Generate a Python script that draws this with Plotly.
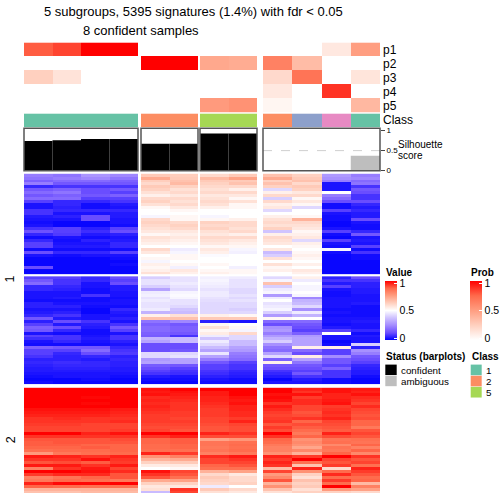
import plotly.graph_objects as go

W = H = 504
FONT = "Liberation Sans"

# columns: group 1 (4), group 2 (2), group 3 (2), group 4 (4)
p_labels = ["p1", "p2", "p3", "p4", "p5"]
p1 = [.78, .84, 1, 1, 0, 0, 0, 0, 0, 0, .12, .50]
p2 = [0, 0, 0, 0, 1, 1, .45, .43, .64, .35, 0, 0]
p3 = [.25, .15, 0, 0, 0, 0, 0, 0, .20, .70, 0, .14]
p4 = [0, 0, 0, 0, 0, 0, 0, 0, .12, 0, .88, 0]
p5 = [0, 0, 0, 0, 0, 0, .52, .56, .05, 0, 0, .37]
class_ids = [0, 0, 0, 0, 1, 1, 2, 2, 1, 3, 4, 0]
class_colors = ["#66C2A5", "#FC8D62", "#A6D854", "#8DA0CB", "#E78AC3"]
sil_confident = [.74, .76, .79, .79, .67, .67, .93, .93, 0, 0, 0, 0]
sil_ambiguous = [0, 0, 0, 0, 0, 0, 0, 0, 0, 0, 0, .37]

# heatmap rows in hundredths, top to bottom, one list per row, 12 columns
block_a = [
 [22,20,27,24, 64,63, 60,64, 66,62, 28,22],
 [20,22,24,20, 72,64, 68,74, 72,64, 26,24],
 [16,18,18,16, 63,66, 64,64, 62,66, 22,18],
 [22,14,14,14, 60,68, 62,66, 66,60, 3,20],
 [6,8,8,8, 64,62, 60,60, 62,64, 3,8],
 [14,16,12,14, 62,58, 58,54, 42,62, 3,14],
 [18,20,12,10, 58,60, 60,60, 54,56, 50,12],
 [14,16,14,16, 54,56, 56,56, 60,60, 22,8],
 [18,18,10,10, 60,60, 58,52, 40,52, 18,8],
 [10,6,6,8, 62,58, 60,58, 60,56, 12,12],
 [3,6,2,4, 58,60, 58,52, 54,52, 2,6],
 [3,5,2,3, 52,56, 54,52, 56,42, 2,4],
 [8,6,6,6, 50,52, 50,50, 42,50, 10,6],
 [8,3,3,4, 50,50, 50,50, 50,50, 3,4],
 [4,5,12,4, 48,52, 48,50, 54,52, 2,4],
 [3,3,12,3, 60,52, 52,54, 58,70, 2,12],
 [2,1,1,3, 62,60, 62,60, 60,60, 1,3],
 [3,1,1,2, 60,62, 60,60, 58,58, 1,2],
 [8,10,5,10, 58,60, 62,58, 62,56, 3,2],
 [13,10,7,12, 56,56, 58,60, 38,52, 10,6],
 [6,9,4,5, 52,54, 56,54, 54,54, 2,14],
 [2,3,2,3, 58,56, 60,60, 60,56, 1,3],
 [6,2,5,4, 56,54, 58,56, 58,42, 10,4],
 [10,3,3,6, 54,52, 56,54, 56,54, 3,3],
 [10,4,4,6, 50,50, 52,52, 50,52, 2,10],
 [2,2,2,2, 60,46, 56,48, 56,50, 48,2],
 [12,6,6,10, 56,48, 54,47, 36,52, 2,8],
 [3,2,3,3, 50,52, 49,50, 40,54, 1,2],
 [1,1,1,2, 52,52, 50,50, 58,52, 1,2],
 [1,1,1,1, 48,50, 50,50, 50,50, 1,1],
 [1,1,1,2, 54,52, 52,50, 58,54, 1,1],
 [12,1,1,1, 52,47, 50,47, 52,50, 1,1],
 [1,1,1,1, 54,56, 52,52, 54,56, 1,1],
 [1,1,1,1, 58,54, 54,52, 50,54, 1,1],
]
block_b = [
 [10,10,6,12, 40,44, 47,46, 42,54, 5,12],
 [14,8,6,10, 44,44, 48,44, 48,46, 8,8],
 [18,8,3,12, 44,46, 47,44, 66,50, 4,5],
 [6,6,3,4, 40,44, 46,44, 40,48, 10,5],
 [6,5,2,4, 30,42, 44,42, 46,48, 3,4],
 [3,3,2,3, 46,48, 46,42, 48,50, 2,4],
 [3,3,8,3, 47,49, 46,44, 28,48, 2,3],
 [3,4,2,2, 44,48, 44,42, 46,24, 3,3],
 [2,2,2,3, 46,44, 43,44, 50,34, 3,3],
 [5,3,3,3, 44,44, 42,42, 44,36, 3,4],
 [5,5,2,2, 44,42, 42,42, 46,42, 3,2],
 [3,3,1,6, 46,38, 42,40, 48,26, 2,2],
 [4,5,1,4, 34,36, 42,42, 40,46, 3,2],
 [6,8,3,3, 54,58, 54,52, 28,34, 2,2],
 [14,4,3,5, 66,66, 64,64, 52,50, 3,3],
 [5,12,8,3, 20,24, 5,3, 18,18, 3,4],
 [10,4,5,8, 16,14, 52,50, 12,14, 2,3],
 [16,12,4,14, 18,16, 58,52, 26,12, 4,3],
 [14,6,2,10, 18,16, 52,48, 28,10, 10,6],
 [3,2,2,3, 16,14, 55,60, 22,16, 50,2],
 [10,8,3,8, 15,8, 46,42, 28,28, 3,4],
 [7,8,4,8, 34,36, 38,42, 34,30, 3,3],
 [3,6,3,5, 30,36, 46,36, 40,30, 1,3],
 [2,2,2,3, 12,12, 42,36, 26,30, 2,40],
 [16,14,14,6, 12,12, 36,30, 20,54, 55,5],
 [10,10,18,8, 12,14, 30,28, 18,18, 10,26],
 [10,6,12,9, 42,42, 45,22, 30,12, 10,22],
 [8,5,6,5, 42,44, 30,20, 42,55, 25,14],
 [5,5,4,6, 28,30, 22,18, 16,30, 14,12],
 [6,7,6,5, 30,30, 14,10, 54,20, 14,10],
 [5,6,6,5, 15,14, 10,8, 14,14, 10,6],
 [4,5,5,4, 12,10, 10,8, 12,12, 16,5],
 [4,4,4,4, 10,8, 8,6, 8,10, 8,4],
 [3,3,3,3, 8,7, 7,5, 6,14, 8,4],
 [2,3,3,2, 4,3, 5,4, 4,8, 8,2],
 [1,1,2,1, 2,2, 3,2, 1,4, 2,1],
 [2,1,1,1, 1,1, 2,2, 3,3, 2,1],
]
block_c = [
 [100,100,100,100, 98,100, 100,100, 100,96, 98,97],
 [100,100,100,100, 97,98, 97,100, 100,94, 98,96],
 [100,100,100,100, 98,97, 97,100, 98,98, 96,98],
 [100,100,99,100, 95,96, 96,98, 99,93, 96,95],
 [100,100,100,100, 96,95, 96,97, 98,95, 97,94],
 [100,100,99,100, 95,94, 95,98, 94,95, 98,92],
 [100,100,100,100, 96,94, 94,96, 97,92, 93,95],
 [98,98,98,97, 95,94, 93,96, 95,92, 94,92],
 [97,97,97,96, 94,93, 93,95, 93,90, 95,91],
 [96,96,96,95, 93,93, 93,95, 92,91, 94,90],
 [94,95,94,94, 93,92, 92,93, 93,94, 96,91],
 [94,94,94,95, 93,93, 92,96, 94,88, 92,88],
 [93,93,92,92, 92,92, 91,92, 90,91, 91,88],
 [92,92,92,92, 91,91, 90,91, 93,89, 90,84],
 [92,92,92,93, 92,90, 90,91, 91,87, 89,90],
 [100,100,96,98, 100,100, 96,94, 100,84, 96,92],
 [94,94,94,94, 94,96, 91,91, 94,88, 91,90],
 [90,90,90,91, 88,89, 74,77, 88,78, 85,86],
 [89,90,90,90, 88,89, 85,86, 87,80, 86,85],
 [89,89,88,88, 87,88, 85,87, 84,78, 80,88],
 [88,88,89,88, 87,88, 84,86, 82,73, 85,82],
 [86,87,87,88, 86,86, 85,87, 82,80, 84,88],
 [76,84,86,87, 96,93, 82,84, 78,70, 88,80],
 [97,96,94,96, 78,82, 95,97, 96,93, 100,94],
 [94,94,98,94, 70,72, 92,94, 93,100, 92,90],
 [90,91,89,93, 62,64, 92,92, 96,86, 90,92],
 [97,97,94,97, 55,56, 88,90, 94,66, 93,86],
 [82,94,97,92, 50,52, 86,86, 68,96, 60,96],
 [100,100,98,95, 98,92, 70,74, 92,78, 87,93],
 [93,95,95,90, 94,90, 60,56, 76,62, 95,90],
 [82,85,88,90, 90,86, 64,60, 80,58, 87,87],
 [84,87,86,84, 72,74, 62,60, 90,66, 93,88],
 [96,99,99,100, 62,62, 60,62, 70,62, 87,68],
 [88,87,86,86, 56,56, 46,50, 78,64, 100,82],
 [70,70,70,70, 58,94, 64,60, 66,58, 76,74],
 [66,66,68,68, 36,92, 58,56, 58,62, 62,60],
]
sil_ticks = [0, 0.5, 1]
sil_tick_text = ["0", "0.5", "1"]
legend_ticks = [0.03, 0.5, 0.96]
legend_tick_text = ["0", "0.5", "1"]
title_lines = ["5 subgroups, 5395 signatures (1.4%) with fdr &lt; 0.05", "8 confident samples"]

VALUE_SCALE = [[0, "#0000FF"], [.12, "#6A4DFF"], [.25, "#A48CFF"], [.38, "#D0C4FF"], [.5, "#FFFFFF"],
               [.625, "#FFD0BF"], [.75, "#FF9E81"], [.875, "#FF6A4B"], [1, "#FF0000"]]
PROB_SCALE = [[0, "#FFFFFF"], [.25, "#FFD0BF"], [.5, "#FF9E81"], [.75, "#FF6A4B"], [1, "#FF0000"]]


def fx(px):
    return px / W


def fy(px):
    return 1 - px / H


groups = [(0, 4, 24, 138), (4, 6, 141, 198), (6, 8, 200, 257), (8, 12, 263, 380)]
bands = {"y": (41, 112), "y2": (113, 127), "y3": (128, 171), "y4": (174, 276), "y5": (278, 388), "y6": (391, 498)}

fig = go.Figure()
p_rows = [p1, p2, p3, p4, p5]
blocks = {"y4": block_a, "y5": block_b, "y6": block_c}

for i, (a, b, x0, x1) in enumerate(groups):
    xa = "x" if i == 0 else f"x{i+1}"
    cols = list(range(a, b))
    fig.add_trace(go.Heatmap(z=[r[a:b] for r in p_rows], x=cols, xaxis=xa, yaxis="y", zmin=0, zmax=1,
                             colorscale=PROB_SCALE, showscale=i == 0, hoverinfo="skip",
                             colorbar=dict(x=fx(470), xanchor="left", y=fy(343), yanchor="bottom", len=60 / H,
                                           thickness=12, xpad=0, ypad=0, outlinewidth=0, ticks="inside", ticklen=3,
                                           tickcolor="white", tickvals=legend_ticks, ticktext=legend_tick_text,
                                           tickfont=dict(family=FONT, size=10.5, color="black"))))
    fig.add_trace(go.Heatmap(z=[class_ids[a:b]], x=cols, xaxis=xa, yaxis="y2", zmin=0, zmax=4,
                             colorscale=[[k / 4, c] for k, c in enumerate(class_colors)], showscale=False,
                             hoverinfo="skip"))
    fig.add_trace(go.Bar(x=cols, y=sil_confident[a:b], marker=dict(color="black", line_width=0), xaxis=xa, yaxis="y3",
                         width=1, hoverinfo="skip", showlegend=False))
    fig.add_trace(go.Bar(x=cols, y=sil_ambiguous[a:b], marker=dict(color="#BEBEBE", line_width=0), xaxis=xa, yaxis="y3",
                         width=1, hoverinfo="skip", showlegend=False))
    for ya, rows in blocks.items():
        show = i == 0 and ya == "y4"
        fig.add_trace(go.Heatmap(z=[[v / 100 for v in r[a:b]] for r in rows], x=cols, xaxis=xa, yaxis=ya,
                                 zmin=0, zmax=1, colorscale=VALUE_SCALE, showscale=show, hoverinfo="skip",
                                 colorbar=dict(x=fx(385), xanchor="left", y=fy(343), yanchor="bottom", len=60 / H,
                                               thickness=12, xpad=0, ypad=0, outlinewidth=0, ticks="inside", ticklen=3,
                                               tickcolor="white", tickvals=legend_ticks, ticktext=legend_tick_text,
                                               tickfont=dict(family=FONT, size=10.5, color="black"))))

layout = dict(width=W, height=H, autosize=False, margin=dict(l=0, r=0, t=0, b=0), paper_bgcolor="white",
              plot_bgcolor="rgba(0,0,0,0)", showlegend=False, barmode="overlay", font=dict(family=FONT, color="black"))
for i, (a, b, x0, x1) in enumerate(groups):
    key = "xaxis" if i == 0 else f"xaxis{i+1}"
    layout[key] = dict(domain=[fx(x0), fx(x1)], range=[a - .5, b - .5], visible=False, fixedrange=True, anchor="y3")
for name, (y0, y1) in bands.items():
    key = "yaxis" + name[1:]
    ax = dict(domain=[fy(y1), fy(y0)], visible=False, fixedrange=True, anchor="x")
    if name == "y3":
        ax.update(range=[0, 1.06], visible=True, side="right", anchor="x4", showgrid=False, zeroline=False, showline=False,
                  ticks="outside", ticklen=4, tickwidth=1, tickcolor="#444444", tickvals=sil_ticks, ticktext=sil_tick_text,
                  tickfont=dict(family=FONT, size=8))
    else:
        ax["autorange"] = "reversed"
    layout[key] = ax
fig.update_layout(**layout)

# silhouette frames and the 0.5 guide in each group
for i in range(4):
    xr = "x domain" if i == 0 else f"x{i+1} domain"
    fig.add_shape(type="rect", xref=xr, yref="y3 domain", x0=0, x1=1, y0=0, y1=1,
                  line=dict(color="#555555", width=1.5), layer="above")
    fig.add_shape(type="line", xref=xr, yref="y3", x0=0, x1=1, y0=.5, y1=.5,
                  line=dict(color="#CFCFCF", width=1, dash="dash"), layer="below")


def note(text, x, y, size=12, xanchor="left", bold=False, angle=0):
    fig.add_annotation(text=f"<b>{text}</b>" if bold else text, x=fx(x), y=fy(y), xref="paper", yref="paper",
                       xanchor=xanchor, yanchor="middle", showarrow=False, textangle=angle,
                       font=dict(family=FONT, size=size, color="black"))


note(title_lines[0], 193.5, 10, 13, "center")
note(title_lines[1], 140.5, 29, 13, "center")
for k, lab in enumerate(p_labels):
    note(lab, 381, 49 + k * 14.1, 12)
note("Class", 381, 120, 12)
note("Silhouette", 395.5, 145, 10)
note("score", 395.5, 156, 10)
note("1", 10.5, 281, 12.5, "center", angle=-90)
note("2", 10.5, 444, 12.5, "center", angle=-90)
note("Value", 384, 274.5, 10, bold=True)
note("Prob", 469, 274.5, 10, bold=True)
note("Status (barplots)", 384, 359, 10, bold=True)
note("Class", 469.5, 359, 10, bold=True)

for color, txt, y in [("black", "confident", 367.7), ("#BEBEBE", "ambiguous", 379)]:
    fig.add_shape(type="rect", xref="paper", yref="paper", x0=fx(385.3), x1=fx(396.7), y0=fy(y + 10.6), y1=fy(y),
                  fillcolor=color, line_width=0)
    note(txt, 399, y + 6, 9.8)
for color, txt, y in [(class_colors[0], "1", 367.7), (class_colors[1], "2", 379), (class_colors[2], "5", 390.3)]:
    fig.add_shape(type="rect", xref="paper", yref="paper", x0=fx(470.7), x1=fx(481.7), y0=fy(y + 10.8), y1=fy(y),
                  fillcolor=color, line_width=0)
    note(txt, 484, y + 6, 9.8)

fig.write_html("out.html", config={"displayModeBar": False},
               post_script="document.body.style.margin='0';window.dispatchEvent(new Event('resize'));")
